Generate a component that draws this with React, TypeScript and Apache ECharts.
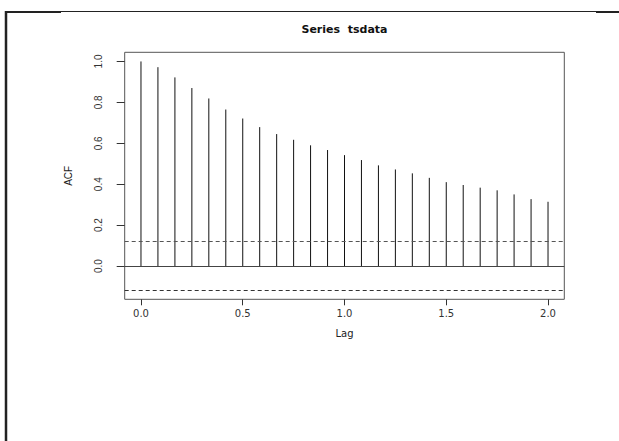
import React, { useEffect, useRef } from "react";
import * as echarts from "echarts";

const lags = [0, 0.0833, 0.1667, 0.25, 0.3333, 0.4167, 0.5, 0.5833, 0.6667, 0.75, 0.8333, 0.9167, 1.0, 1.0833, 1.1667, 1.25, 1.3333, 1.4167, 1.5, 1.5833, 1.6667, 1.75, 1.8333, 1.9167, 2.0];
const acfValues = [1.0, 0.972, 0.922, 0.87, 0.819, 0.765, 0.721, 0.679, 0.645, 0.617, 0.59, 0.567, 0.542, 0.518, 0.492, 0.472, 0.453, 0.431, 0.41, 0.396, 0.383, 0.37, 0.35, 0.327, 0.314];
const ciBound = 0.118;
const xTicks = [0, 0.5, 1.0, 1.5, 2.0];
const yTicks = [0, 0.2, 0.4, 0.6, 0.8, 1.0];
const titleText = "Series  tsdata";

export default function App() {
  const ref = useRef<HTMLDivElement>(null);
  useEffect(() => {
    if (!ref.current) return;
    const chart = echarts.init(ref.current, null, { renderer: "svg" });
    const data = lags.map((l, i) => [l, acfValues[i]]);
    chart.setOption({
      animation: false,
      backgroundColor: "#fff",
      grid: {
        left: 124.7,
        top: 52.3,
        right: 54.7,
        bottom: 141.7,
        show: true,
        borderColor: "#555",
        borderWidth: 1,
        backgroundColor: "transparent",
      },
      xAxis: {
        type: "value",
        min: -0.08,
        max: 2.08,
        name: "Lag",
        nameLocation: "middle",
        nameGap: 29,
        nameTextStyle: { fontFamily: "DejaVu Sans", fontSize: 10, color: "#222" },
        axisLine: { show: false, onZero: false },
        splitLine: { show: false },
        axisTick: { show: true, customValues: xTicks, length: 6, lineStyle: { color: "#333" } },
        axisLabel: {
          customValues: xTicks,
          margin: 9,
          fontFamily: "DejaVu Sans",
          fontSize: 10,
          color: "#333",
          formatter: (v: number) => v.toFixed(1),
        },
      },
      yAxis: {
        type: "value",
        min: -0.1627,
        max: 1.0447,
        name: "ACF",
        nameLocation: "middle",
        nameRotate: 90,
        nameGap: 51,
        nameTextStyle: { fontFamily: "Liberation Sans", fontSize: 10, color: "#222" },
        axisLine: { show: false, onZero: false },
        splitLine: { show: false },
        axisTick: { show: true, customValues: yTicks, length: 8, lineStyle: { color: "#333" } },
        axisLabel: {
          customValues: yTicks,
          rotate: 90,
          margin: 21,
          fontFamily: "Liberation Sans",
          fontSize: 10,
          color: "#333",
          formatter: (v: number) => v.toFixed(1),
        },
      },
      graphic: [
        {
          type: "text",
          x: 344.5,
          y: 29,
          style: {
            text: titleText,
            fontFamily: "DejaVu Sans",
            fontWeight: "bold",
            fontSize: 11,
            fill: "#111",
            align: "center",
            verticalAlign: "middle",
          },
        },
        { type: "line", shape: { x1: 6, y1: 11, x2: 6, y2: 441 }, style: { stroke: "#222", lineWidth: 2.5 } },
        { type: "line", shape: { x1: 5, y1: 12, x2: 61, y2: 12 }, style: { stroke: "#222", lineWidth: 2 } },
        { type: "line", shape: { x1: 61, y1: 11.5, x2: 596, y2: 11.5 }, style: { stroke: "#222", lineWidth: 1 } },
        { type: "line", shape: { x1: 596, y1: 12, x2: 619, y2: 12 }, style: { stroke: "#222", lineWidth: 2 } },
      ],
      series: [
        {
          type: "custom",
          name: "ACF",
          data,
          renderItem: (params: any, api: any) => {
            const p0 = api.coord([api.value(0), 0]);
            const p1 = api.coord([api.value(0), api.value(1)]);
            return {
              type: "line",
              shape: { x1: p0[0], y1: p0[1], x2: p1[0], y2: p1[1] },
              style: { stroke: "#111", lineWidth: 1 },
            };
          },
          markLine: {
            silent: true,
            symbol: "none",
            label: { show: false },
            data: [
              { yAxis: 0, lineStyle: { type: "solid", color: "#444", width: 1 } },
              { yAxis: ciBound, lineStyle: { type: [4, 3], color: "#555", width: 1 } },
              { yAxis: -ciBound, lineStyle: { type: [4, 3], color: "#333", width: 1 } },
            ],
          },
        },
      ],
    });
    return () => chart.dispose();
  }, []);
  return (
    <div
      ref={ref}
      style={{ position: "absolute", left: 0, top: 0, width: 619, height: 441 }}
    />
  );
}
